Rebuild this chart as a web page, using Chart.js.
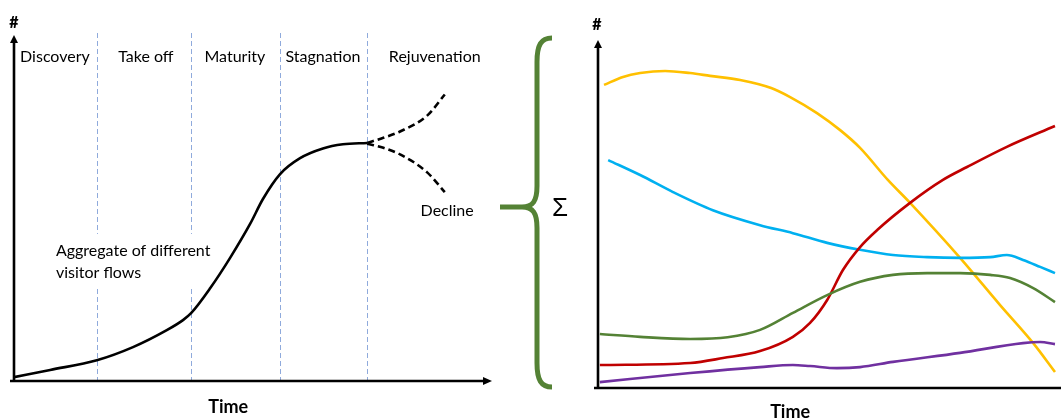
<!DOCTYPE html>
<html>
<head>
<meta charset="utf-8">
<script src="https://cdn.jsdelivr.net/npm/chart.js@4.4.1/dist/chart.umd.min.js"></script>
<style>
  html, body { margin: 0; padding: 0; background: #ffffff; overflow: hidden; }
  #wrap { position: relative; width: 1061px; height: 419px; }
  #leftC { position: absolute; left: 0; top: 0; }
  #rightC { position: absolute; left: 590px; top: 0; }
  #brace { position: absolute; left: 0; top: 0; pointer-events: none; }
</style>
</head>
<body>
<div id="wrap">
  <canvas id="leftC" width="500" height="419"></canvas>
  <canvas id="rightC" width="471" height="419"></canvas>
  <svg id="brace" width="1061" height="419" xmlns="http://www.w3.org/2000/svg">
    <path d="M552,38 C541,38 537,45 537,62 L537,186 C537,201 533,207 522,207 L500,207 M522,207 C533,207 537,213 537,228 L537,363 C537,380 541,387 552,387"
          fill="none" stroke="#548235" stroke-width="5" stroke-linecap="butt"/>
    <text x="560" y="209" font-family="'Liberation Sans', sans-serif" font-size="26" text-anchor="middle" dominant-baseline="middle" fill="#000">Σ</text>
  </svg>
</div>
<script>
// ---------- Left chart data (time 0-100, visitors 0-100) ----------
const phaseNames = ["Discovery", "Take off", "Maturity", "Stagnation", "Rejuvenation"];
const phaseLabelX = [8.6, 27.7, 46.4, 64.9, 88.4];
const phaseBounds = [17.4, 37.2, 55.9, 74.2];

const aggregateX = [0, 7.6, 17.4, 25.0, 32.1, 35.5, 37.2, 41.2, 45.4, 49.6, 52.3, 55.9, 60.1, 64.9, 69.1, 74.2];
const aggregateY = [1.1, 3.2, 6.0, 9.8, 14.7, 17.6, 19.6, 26.8, 35.6, 45.4, 52.6, 59.8, 64.4, 67.2, 68.4, 68.8];

const rejuvenationX = [74.2, 77.6, 81.1, 86.8, 90.5];
const rejuvenationY = [68.8, 70.3, 72.1, 76.7, 82.8];
const declineX = [74.2, 77.6, 81.1, 86.8, 90.5];
const declineY = [68.6, 67.4, 65.5, 60.3, 54.6];

// ---------- Right chart data (individual visitor flows) ----------
const yellowX = [1.3, 5.4, 9.1, 14.5, 19.9, 24.2, 30.7, 37.4, 41.5, 47.3, 52.3, 56.6, 62.6, 67.4, 78.2, 86.8, 94.0, 98.7];
const yellowY = [87.1, 89.4, 90.5, 91.1, 90.5, 89.7, 88.5, 86.2, 83.6, 79.0, 74.1, 69.0, 59.8, 53.2, 37.4, 23.9, 12.9, 4.6];

const cyanX = [2.2, 9.1, 16.2, 24.8, 35.0, 42.1, 49.5, 56.6, 63.7, 71.1, 78.2, 84.7, 88.3, 91.8, 95.5, 98.7];
const cyanY = [65.5, 61.2, 56.3, 51.1, 46.8, 44.5, 41.7, 39.7, 38.2, 37.6, 37.4, 37.6, 38.2, 36.8, 34.8, 33.0];

const greenX = [0.4, 9.1, 19.9, 28.0, 35.0, 42.1, 49.5, 56.6, 63.7, 71.1, 78.2, 84.7, 89.0, 94.0, 98.7];
const greenY = [15.5, 14.7, 14.1, 14.6, 16.7, 21.6, 26.7, 30.5, 32.5, 33.0, 33.0, 32.5, 31.6, 28.7, 24.7];

const redX = [0.4, 19.9, 27.0, 35.0, 42.1, 45.8, 49.5, 52.9, 56.6, 60.3, 67.4, 74.5, 79.7, 88.3, 98.7];
const redY = [6.6, 7.2, 8.6, 10.6, 14.7, 18.7, 25.3, 33.9, 40.5, 45.4, 53.2, 59.8, 63.5, 69.3, 75.3];

const purpleX = [0.4, 19.9, 35.0, 42.1, 45.8, 51.6, 56.6, 63.7, 78.2, 91.8, 95.5, 98.7];
const purpleY = [1.7, 4.3, 6.0, 6.6, 6.3, 5.7, 6.0, 7.5, 10.1, 12.9, 13.2, 12.6];

const leftTexts = {
  aggregate: ["Aggregate of different", "visitor flows"],
  decline: "Decline",
  xTitle: "Time",
  yTitle: "#"
};

// ---------- helpers ----------
function pts(xs, ys) { return xs.map((x, i) => ({ x: x, y: ys[i] })); }
const FONT = "Lato, 'Open Sans', sans-serif";

function drawArrowAxes(ctx, area, opts) {
  ctx.save();
  ctx.strokeStyle = "#000";
  ctx.fillStyle = "#000";
  ctx.lineWidth = 2.6;
  ctx.beginPath();
  ctx.moveTo(area.left, area.bottom + 1);
  ctx.lineTo(area.left, area.top + 6);
  ctx.stroke();
  ctx.beginPath();
  ctx.moveTo(area.left, area.top);
  ctx.lineTo(area.left - 4, area.top + 8);
  ctx.lineTo(area.left + 4, area.top + 8);
  ctx.closePath();
  ctx.fill();
  ctx.beginPath();
  ctx.moveTo(area.left - 4, area.bottom);
  ctx.lineTo(opts.xArrow ? area.right - 6 : area.right, area.bottom);
  ctx.stroke();
  if (opts.xArrow) {
    ctx.beginPath();
    ctx.moveTo(area.right + 2, area.bottom);
    ctx.lineTo(area.right - 7, area.bottom - 4);
    ctx.lineTo(area.right - 7, area.bottom + 4);
    ctx.closePath();
    ctx.fill();
  }
  ctx.restore();
}

const baseOptions = () => ({
  responsive: false,
  animation: false,
  devicePixelRatio: 1,
  events: [],
  plugins: { legend: { display: false }, tooltip: { enabled: false } },
  elements: { point: { radius: 0 }, line: { cubicInterpolationMode: "monotone" } },
  scales: {
    x: { type: "linear", min: 0, max: 100, display: false },
    y: { type: "linear", min: 0, max: 100, display: false }
  }
});

// ---------- Left chart ----------
const leftPlugin = {
  id: "leftDecor",
  beforeDatasetsDraw(chart) {
    const { ctx, chartArea: a, scales: { x, y } } = chart;
    ctx.save();
    ctx.strokeStyle = "#8FAADC";
    ctx.lineWidth = 1;
    ctx.setLineDash([5, 3]);
    phaseBounds.forEach(b => {
      const px = Math.round(x.getPixelForValue(b)) + 0.5;
      ctx.beginPath();
      ctx.moveTo(px, a.top - 2);
      ctx.lineTo(px, a.bottom);
      ctx.stroke();
    });
    ctx.setLineDash([]);
    ctx.fillStyle = "#000";
    ctx.font = "16px " + FONT;
    ctx.textAlign = "center";
    ctx.textBaseline = "middle";
    phaseNames.forEach((n, i) => {
      ctx.fillText(n, x.getPixelForValue(phaseLabelX[i]), y.getPixelForValue(93.7));
    });
    ctx.textAlign = "left";
    const lx = x.getPixelForValue(8.8);
    const ly1 = y.getPixelForValue(37.6), ly2 = y.getPixelForValue(31.3);
    const w = ctx.measureText(leftTexts.aggregate[0]).width;
    ctx.fillStyle = "#fff";
    ctx.fillRect(lx - 2, ly1 - 17, w + 4, (ly2 - ly1) + 31);
    ctx.fillStyle = "#000";
    ctx.fillText(leftTexts.aggregate[0], lx, ly1);
    ctx.fillText(leftTexts.aggregate[1], lx, ly2);
    ctx.textAlign = "center";
    ctx.fillText(leftTexts.decline, x.getPixelForValue(91), y.getPixelForValue(49.1));
    ctx.restore();
  },
  afterDraw(chart) {
    const { ctx, chartArea: a, scales: { x } } = chart;
    drawArrowAxes(ctx, a, { xArrow: true });
    ctx.save();
    ctx.fillStyle = "#000";
    ctx.textAlign = "center";
    ctx.textBaseline = "middle";
    ctx.font = "900 16px " + FONT;
    ctx.fillText(leftTexts.yTitle, a.left, a.top - 12);
    ctx.font = "bold 18px " + FONT;
    ctx.fillText(leftTexts.xTitle, x.getPixelForValue(45), a.bottom + 26);
    ctx.restore();
  }
};

const lOpts = baseOptions();
lOpts.layout = { padding: { left: 14, right: 10, top: 35, bottom: 38 } };
new Chart(document.getElementById("leftC"), {
  type: "line",
  data: {
    datasets: [
      { label: "Aggregate", data: pts(aggregateX, aggregateY), borderColor: "#000", borderWidth: 2.6, fill: false },
      { label: "Rejuvenation", data: pts(rejuvenationX, rejuvenationY), borderColor: "#000", borderWidth: 2.6, borderDash: [7, 4], fill: false },
      { label: "Decline", data: pts(declineX, declineY), borderColor: "#000", borderWidth: 2.6, borderDash: [7, 4], fill: false }
    ]
  },
  options: lOpts,
  plugins: [leftPlugin]
});

// ---------- Right chart ----------
const rightPlugin = {
  id: "rightDecor",
  afterDraw(chart) {
    const { ctx, chartArea: a, scales: { x } } = chart;
    drawArrowAxes(ctx, a, { xArrow: false });
    ctx.save();
    ctx.fillStyle = "#000";
    ctx.textAlign = "center";
    ctx.textBaseline = "middle";
    ctx.font = "900 16px " + FONT;
    ctx.fillText(leftTexts.yTitle, a.left - 1, a.top - 15);
    ctx.font = "bold 18px " + FONT;
    ctx.fillText(leftTexts.xTitle, x.getPixelForValue(41.5), a.bottom + 24);
    ctx.restore();
  }
};

const rOpts = baseOptions();
rOpts.layout = { padding: { left: 8, right: 0, top: 40, bottom: 31 } };
const flow = (label, xs, ys, color) => ({ label, data: pts(xs, ys), borderColor: color, borderWidth: 2.6, fill: false });
new Chart(document.getElementById("rightC"), {
  type: "line",
  data: {
    datasets: [
      flow("Purple", purpleX, purpleY, "#7030A0"),
      flow("Green", greenX, greenY, "#548235"),
      flow("Red", redX, redY, "#C00000"),
      flow("Cyan", cyanX, cyanY, "#00B0F0"),
      flow("Yellow", yellowX, yellowY, "#FFC000")
    ]
  },
  options: rOpts,
  plugins: [rightPlugin]
});
</script>
</body>
</html>
